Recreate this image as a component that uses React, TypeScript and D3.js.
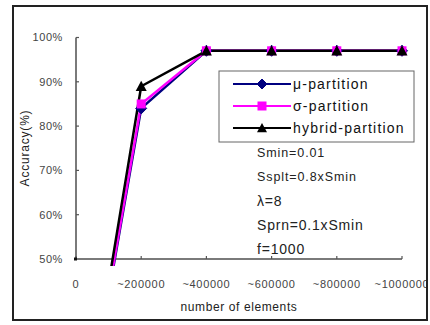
import React from "react";
import * as d3 from "d3";

const categories = ["0", "~200000", "~400000", "~600000", "~800000", "~1000000"];
const muValues = [0, 84, 97, 97, 97, 97];
const sigmaValues = [0, 85, 97, 97, 97, 97];
const hybridValues = [0, 89, 97, 97, 97, 97];
const yTicks = [50, 60, 70, 80, 90, 100];
const seriesNames = ["μ-partition", "σ-partition", "hybrid-partition"];
const notes = ["Smin=0.01", "Ssplt=0.8xSmin", "λ=8", "Sprn=0.1xSmin", "f=1000"];

const W = 430;
const H = 325;
const FONT = "'Liberation Sans', Arial, sans-serif";

function marker(kind: string, cx: number, cy: number, color: string, s: number, key: string) {
  if (kind === "diamond") {
    return (
      <path key={key} d={`M${cx},${cy - s}L${cx + s},${cy}L${cx},${cy + s}L${cx - s},${cy}Z`} fill={color} stroke={color} strokeWidth={1} />
    );
  }
  if (kind === "square") {
    return <rect key={key} x={cx - s} y={cy - s} width={2 * s} height={2 * s} fill={color} />;
  }
  return (
    <path key={key} d={`M${cx},${cy - s}L${cx + s},${cy + s * 0.85}L${cx - s},${cy + s * 0.85}Z`} fill={color} />
  );
}

export default function App() {
  const x = d3.scalePoint<string>().domain(categories).range([76, 402]);
  const y = d3.scaleLinear().domain([50, 100]).range([259, 37.5]);

  const series = [
    { name: seriesNames[0], values: muValues, color: "#000080", kind: "diamond", size: 5.5 },
    { name: seriesNames[1], values: sigmaValues, color: "#FF00FF", kind: "square", size: 4.5 },
    { name: seriesNames[2], values: hybridValues, color: "#000000", kind: "triangle", size: 5.5 },
  ];

  const line = d3
    .line<number>()
    .x((_, i) => x(categories[i]) as number)
    .y((v) => y(v));

  const x0 = x(categories[0]) as number;
  const x1 = x(categories[categories.length - 1]) as number;
  const yTop = y(100);
  const yBot = y(50);

  return (
    <svg width={W} height={H} style={{ position: "absolute", left: 0, top: 0, background: "#fff" }} fontFamily={FONT}>
      <defs>
        <clipPath id="plotClip">
          <rect x={x0 - 2} y={yTop - 10} width={x1 - x0 + 14} height={yBot - yTop + 17} />
        </clipPath>
        <clipPath id="frameClip">
          <rect x={13} y={6} width={414} height={314} />
        </clipPath>
      </defs>
      <rect x={0} y={0} width={W} height={H} fill="#fff" />

      <g clipPath="url(#frameClip)">
        {/* y axis */}
        <line x1={x0} x2={x0} y1={yTop} y2={yBot} stroke="#7a7a7a" strokeWidth={2} />
        {yTicks.map((t) => (
          <g key={"yt" + t}>
            <line x1={x0} x2={x0 + 3} y1={y(t)} y2={y(t)} stroke="#555" strokeWidth={1.2} />
            <text x={x0 - 13} y={y(t)} dy="0.35em" textAnchor="end" fontSize={11} fill="#444" letterSpacing={0.6}>
              {t}%
            </text>
          </g>
        ))}
        {/* x axis */}
        <line x1={x0} x2={x1} y1={yBot} y2={yBot} stroke="#7a7a7a" strokeWidth={2} />
        {categories.map((c) => (
          <g key={"xt" + c}>
            <line x1={x(c)} x2={x(c)} y1={yBot} y2={yBot - 3} stroke="#555" strokeWidth={1.2} />
            <text x={x(c)} y={yBot + 25} dy="0.35em" textAnchor="middle" fontSize={11} fill="#444" letterSpacing={0.7}>
              {c}
            </text>
          </g>
        ))}
        <rect x={x0 - 2} y={yBot - 1.5} width={3} height={3} fill="#111" />

        {/* axis titles */}
        <text x={239} y={307} dy="0.35em" textAnchor="middle" fontSize={12} fill="#222" letterSpacing={0.6}>
          number of elements
        </text>
        <text transform={`translate(25,148) rotate(-90)`} dy="0.35em" textAnchor="middle" fontSize={12} fill="#222" letterSpacing={0.8}>
          Accuracy(%)
        </text>

        {/* series */}
        <g clipPath="url(#plotClip)">
          {series.map((s) => (
            <path key={"l" + s.name} d={line(s.values) || ""} fill="none" stroke={s.color} strokeWidth={2.5} strokeLinejoin="round" />
          ))}
          {series.map((s) =>
            s.values.map((v, i) =>
              v >= 50 ? marker(s.kind, x(categories[i]) as number, y(v), s.color, s.size, s.name + i) : null
            )
          )}
        </g>

        {/* legend */}
        <rect x={219} y={71} width={195} height={71} fill="#fff" stroke="#666" strokeWidth={1} />
        {series.map((s, i) => {
          const ry = 84 + i * 22;
          return (
            <g key={"lg" + s.name}>
              <line x1={233} x2={291} y1={ry} y2={ry} stroke={s.color} strokeWidth={2} />
              {marker(s.kind, 262, ry, s.color, s.kind === "square" ? 4.5 : 5, "lm" + i)}
              <text x={293} y={ry} dy="0.35em" fontSize={14} fill="#111" letterSpacing={1.2}>
                {s.name}
              </text>
            </g>
          );
        })}

        {/* notes */}
        {notes.map((n, i) => (
          <text
            key={"n" + i}
            x={257}
            y={153 + i * 24}
            dy="0.35em"
            fontSize={i < 2 ? 12.5 : 14}
            fill="#222"
            letterSpacing={i < 2 ? 0.9 : 0.8}
          >
            {n}
          </text>
        ))}
      </g>

      {/* outer frame */}
      <rect x={13} y={6} width={414} height={314} fill="none" stroke="#222" strokeWidth={2} />
    </svg>
  );
}
